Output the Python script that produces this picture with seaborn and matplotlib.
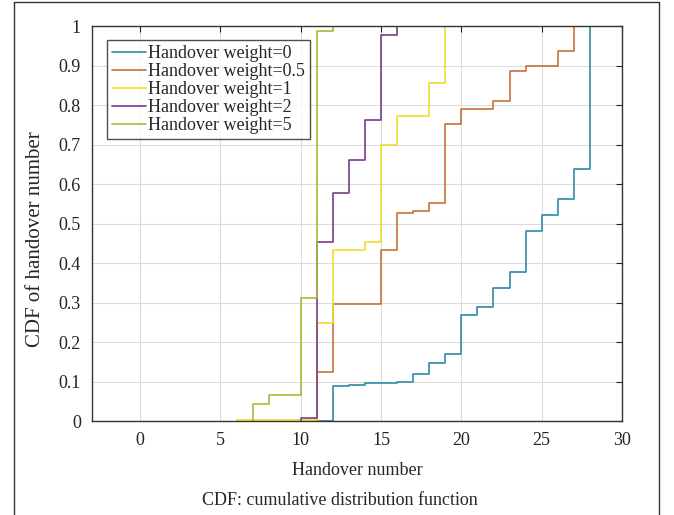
import matplotlib
matplotlib.use("Agg")
import matplotlib.pyplot as plt
import seaborn as sns
import pandas as pd
from matplotlib.lines import Line2D

# ---- data ----
series_names = ["Handover weight=0", "Handover weight=0.5", "Handover weight=1",
                "Handover weight=2", "Handover weight=5"]

w0_x = [11, 12, 13, 14, 15, 16, 17, 18, 19, 20, 21, 22, 23, 24, 25, 26, 27, 28]
w0_y = [0.0, 0.089, 0.092, 0.095, 0.097, 0.100, 0.119, 0.148, 0.169, 0.268,
        0.289, 0.338, 0.377, 0.480, 0.521, 0.561, 0.637, 1.0]

w05_x = [11, 12, 15, 16, 17, 18, 19, 20, 22, 23, 24, 26, 27]
w05_y = [0.124, 0.297, 0.434, 0.527, 0.531, 0.553, 0.753, 0.790, 0.809, 0.886,
         0.899, 0.937, 1.0]

w1_x = [6, 11, 12, 14, 15, 16, 18, 19]
w1_y = [0.002, 0.248, 0.434, 0.453, 0.700, 0.773, 0.856, 1.0]

w2_x = [10, 11, 12, 13, 14, 15, 16]
w2_y = [0.007, 0.453, 0.576, 0.662, 0.763, 0.976, 1.0]

w5_x = [7, 8, 10, 11, 12]
w5_y = [0.042, 0.067, 0.311, 0.987, 1.0]

x_ticks = [0, 5, 10, 15, 20, 25, 30]
y_ticks = [0, 0.1, 0.2, 0.3, 0.4, 0.5, 0.6, 0.7, 0.8, 0.9, 1.0]
y_tick_labels = ["0", "0.1", "0.2", "0.3", "0.4", "0.5", "0.6", "0.7", "0.8", "0.9", "1"]

colors = ["#2f8aa6", "#c8703a", "#eedc2a", "#7b3a8e", "#a6b83a"]

# ---- build long table (each curve starts at F=0 at its first x) ----
rows = []
for name, xs, ys in zip(series_names,
                        [w0_x, w05_x, w1_x, w2_x, w5_x],
                        [w0_y, w05_y, w1_y, w2_y, w5_y]):
    rows.append((name, xs[0], 0.0))
    for xv, yv in zip(xs, ys):
        rows.append((name, xv, yv))
df = pd.DataFrame(rows, columns=["series", "x", "cdf"])

sns.set_style("white")
plt.rcParams["font.family"] = ["Liberation Serif", "DejaVu Serif"]

fig = plt.figure(figsize=(6.74, 5.15), dpi=100)
ax = fig.add_axes([0.1365, 0.1825, 0.7863, 0.767])

sns.lineplot(data=df, x="x", y="cdf", hue="series", hue_order=series_names,
             palette=colors, estimator=None, sort=False, drawstyle="steps-post",
             linewidth=1.2, ax=ax, legend=False)

ax.set_xlim(-3, 30)
ax.set_ylim(0, 1)
ax.set_xticks(x_ticks)
ax.set_xticklabels([str(t) for t in x_ticks])
ax.set_yticks(y_ticks)
ax.set_yticklabels(y_tick_labels)
ax.grid(True, color="#dcdcdc", linewidth=0.8)
ax.set_axisbelow(True)
ax.tick_params(direction="in", length=4, width=0.8, top=True, right=True,
               labelsize=13, pad=8, colors="#222222")
for sp in ax.spines.values():
    sp.set_visible(True)
    sp.set_color("#333333")
    sp.set_linewidth(1.0)

ax.set_xlabel("Handover number", fontsize=13, labelpad=9)
ax.set_ylabel("")
fig.text(0.053, 0.535, "CDF of handover number", rotation=90, fontsize=15,
         ha="center", va="center")
fig.text(0.505, 0.028, "CDF: cumulative distribution function", fontsize=13,
         ha="center", va="center")

handles = [Line2D([], [], color=c, linewidth=1.2) for c in colors]
leg = ax.legend(handles, series_names, loc="upper left",
                bbox_to_anchor=(0.028, 0.965), borderaxespad=0, fontsize=13,
                frameon=True, fancybox=False, edgecolor="#222222",
                handlelength=1.9, handletextpad=0.1, labelspacing=0.06,
                borderpad=0.28)
leg.get_frame().set_linewidth(1.0)

# outer figure frame
for xs_, ys_ in [([0.021, 0.021], [0.0, 0.996]), ([0.978, 0.978], [0.0, 0.996]),
                 ([0.021, 0.978], [0.996, 0.996])]:
    fig.add_artist(Line2D(xs_, ys_, transform=fig.transFigure, color="#333333",
                          linewidth=1.0))

fig.savefig("out.png", dpi=100)
